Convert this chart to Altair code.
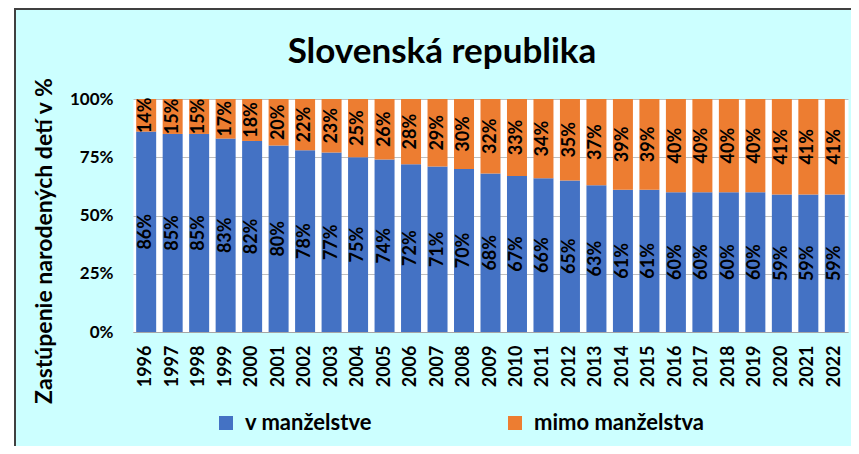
import altair as alt
import pandas as pd

years = ["1996", "1997", "1998", "1999", "2000", "2001", "2002", "2003", "2004",
         "2005", "2006", "2007", "2008", "2009", "2010", "2011", "2012", "2013",
         "2014", "2015", "2016", "2017", "2018", "2019", "2020", "2021", "2022"]
in_marriage = [86, 85, 85, 83, 82, 80, 78, 77, 75, 74, 72, 71, 70, 68, 67, 66, 65,
               63, 61, 61, 60, 60, 60, 60, 59, 59, 59]
out_marriage = [14, 15, 15, 17, 18, 20, 22, 23, 25, 26, 28, 29, 30, 32, 33, 34, 35,
                37, 39, 39, 40, 40, 40, 40, 41, 41, 41]
series = ["v manželstve", "mimo manželstva"]
colors = ["#4472C4", "#ED7D31"]
title_text = "Slovenská republika"
y_title = "Zastúpenie narodených detí v %"

rows = []
for i, y in enumerate(years):
    for k, vals in enumerate([in_marriage, out_marriage]):
        rows.append({"year": y, "series": series[k], "order": k,
                     "value": vals[i] / 100.0, "label": f"{vals[i]}%"})
df = pd.DataFrame(rows)

FONT = "Lato"
W, H = 715, 233

base = alt.Chart(df).transform_stack(
    stack="value", groupby=["year"], as_=["y0", "y1"],
    sort=[alt.SortField("order", order="ascending")]
).transform_calculate(mid="(datum.y0 + datum.y1) / 2")

xenc = alt.X("year:N", sort=years, title=None,
             scale=alt.Scale(paddingInner=0.245, paddingOuter=0.12))

bars = base.mark_bar().encode(
    x=xenc,
    y=alt.Y("y0:Q", scale=alt.Scale(domain=[0, 1]), title=None,
            axis=alt.Axis(values=[0, 0.25, 0.5, 0.75, 1.0], format=".0%")),
    y2="y1:Q",
    color=alt.Color("series:N", scale=alt.Scale(domain=series, range=colors),
                    legend=alt.Legend(title=None, orient="none", direction="horizontal",
                                      legendX=82, legendY=313, columnPadding=132,
                                      symbolType="square", symbolSize=196,
                                      symbolStrokeWidth=0, labelOffset=8,
                                      labelFont=FONT, labelFontSize=22,
                                      labelFontWeight="bold", labelColor="black",
                                      padding=0, labelLimit=300)),
)

labels = base.mark_text(angle=270, font=FONT, fontSize=18, fontWeight="bold",
                        color="black", align="center", baseline="middle").encode(
    x=xenc,
    y=alt.Y("mid:Q", title=None),
    text="label:N",
)

one = pd.DataFrame({"t": [title_text], "yt": [y_title]})
title = alt.Chart(one).mark_text(font=FONT, fontSize=35, fontWeight="bold",
                                 color="black", align="center",
                                 baseline="alphabetic").encode(
    text="t:N", x=alt.value(309), y=alt.value(-36))

ytitle = alt.Chart(one).mark_text(font=FONT, fontSize=23, fontWeight="bold",
                                  color="black", align="center", angle=270,
                                  baseline="middle").encode(
    text="yt:N", x=alt.value(-88), y=alt.value(142))

frame = alt.Chart(one).mark_rect(fill="transparent", stroke="#404040",
                                 strokeWidth=2).encode(
    x=alt.value(-118), x2=alt.value(1000), y=alt.value(-90), y2=alt.value(700))
strip = alt.Chart(one).mark_rect(fill="white").encode(
    x=alt.value(-140), x2=alt.value(-119), y=alt.value(-120), y2=alt.value(700))

chart = alt.layer(strip, frame, bars, labels, title, ytitle).properties(
    width=W, height=H,
    autosize=alt.AutoSizeParams(type="none"),
    padding={"left": 125, "top": 91, "right": 3, "bottom": 114},
    background="#CCFFFF",
).configure_view(fill="white", stroke="transparent").configure_axisX(
    labelAngle=-90, labelFont=FONT, labelFontSize=18, labelFontWeight="bold",
    labelColor="black", ticks=False, domainColor="#A6A6A6", labelPadding=13,
    grid=False,
).configure_axisY(
    labelFont=FONT, labelFontSize=17, labelFontWeight="bold", labelColor="black",
    ticks=False, domain=False, labelPadding=20, gridColor="#BFBFBF",
)

chart.save("out.html", embed_options={"renderer": "svg", "actions": False})
